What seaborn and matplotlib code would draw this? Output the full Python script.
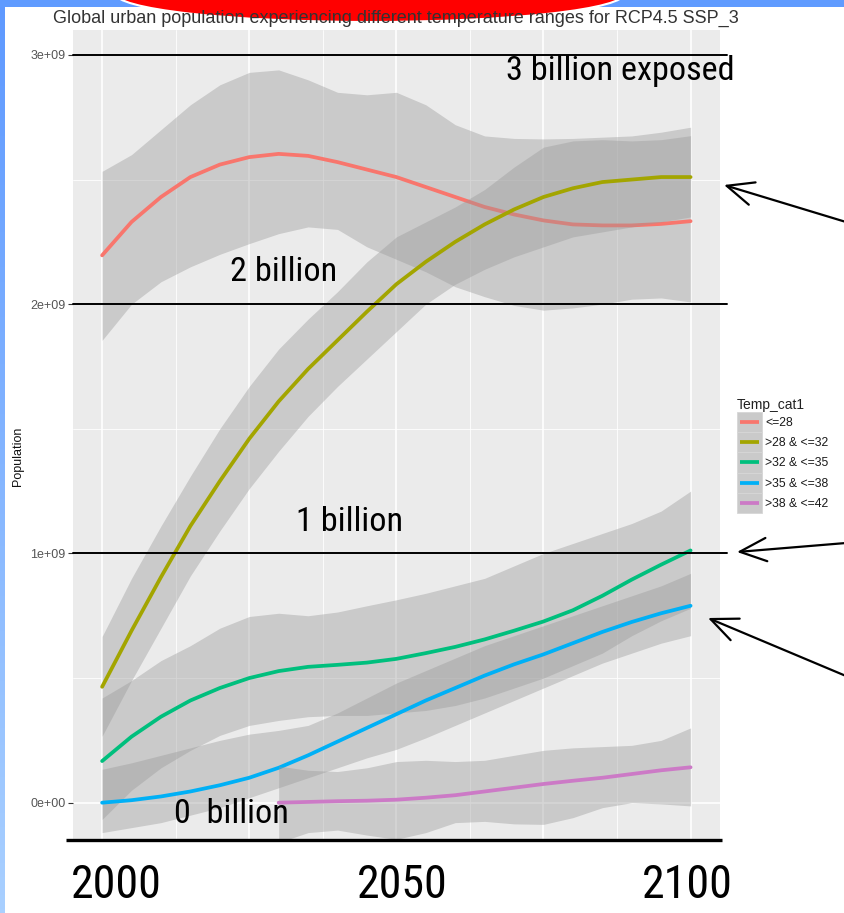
import os
import matplotlib
matplotlib.use("Agg")
import numpy as np
import pandas as pd
import matplotlib.pyplot as plt
import seaborn as sns
from matplotlib import font_manager as fm
from matplotlib.patches import Ellipse, Rectangle, FancyArrowPatch

# ---------------- data (population in billions) ----------------
years = [2000, 2005, 2010, 2015, 2020, 2025, 2030, 2035, 2040, 2045, 2050,
         2055, 2060, 2065, 2070, 2075, 2080, 2085, 2090, 2095, 2100]

cat_le28 = [2.196, 2.33, 2.43, 2.51, 2.56, 2.59, 2.603, 2.595, 2.57, 2.54, 2.51,
            2.47, 2.43, 2.39, 2.36, 2.336, 2.32, 2.316, 2.316, 2.322, 2.333]
cat_le28_hi = [2.533, 2.60, 2.70, 2.80, 2.88, 2.93, 2.94, 2.90, 2.85, 2.84, 2.85,
               2.80, 2.72, 2.675, 2.665, 2.663, 2.665, 2.67, 2.675, 2.69, 2.71]
cat_le28_lo = [1.855, 2.00, 2.09, 2.15, 2.20, 2.243, 2.283, 2.31, 2.30, 2.23, 2.18,
               2.13, 2.07, 2.03, 1.995, 1.976, 1.985, 2.00, 2.02, 2.025, 2.009]

cat_28_32 = [0.465, 0.69, 0.905, 1.11, 1.29, 1.46, 1.61, 1.74, 1.855, 1.97, 2.08,
             2.17, 2.25, 2.32, 2.38, 2.43, 2.465, 2.49, 2.50, 2.51, 2.51]
cat_28_32_hi = [0.667, 0.90, 1.11, 1.31, 1.50, 1.67, 1.82, 1.94, 2.05, 2.17, 2.27,
                2.33, 2.39, 2.46, 2.55, 2.63, 2.655, 2.66, 2.655, 2.66, 2.676]
cat_28_32_lo = [0.267, 0.49, 0.70, 0.91, 1.09, 1.26, 1.41, 1.55, 1.67, 1.78, 1.89,
                2.00, 2.08, 2.14, 2.19, 2.23, 2.27, 2.29, 2.31, 2.33, 2.35]

cat_32_35 = [0.167, 0.265, 0.345, 0.41, 0.46, 0.50, 0.528, 0.545, 0.553, 0.562, 0.577,
             0.60, 0.625, 0.655, 0.69, 0.727, 0.772, 0.83, 0.895, 0.955, 1.012]
cat_32_35_hi = [0.42, 0.49, 0.57, 0.63, 0.70, 0.747, 0.76, 0.75, 0.765, 0.79, 0.814,
                0.84, 0.87, 0.90, 0.95, 1.00, 1.04, 1.08, 1.12, 1.17, 1.25]
cat_32_35_lo = [-0.067, 0.05, 0.14, 0.21, 0.27, 0.31, 0.33, 0.345, 0.35, 0.35, 0.36,
                0.37, 0.39, 0.42, 0.46, 0.50, 0.55, 0.60, 0.67, 0.73, 0.78]

cat_35_38 = [0.0, 0.01, 0.025, 0.045, 0.07, 0.10, 0.14, 0.19, 0.245, 0.30, 0.355,
             0.41, 0.46, 0.51, 0.555, 0.595, 0.64, 0.685, 0.725, 0.76, 0.79]
cat_35_38_hi = [0.134, 0.16, 0.19, 0.22, 0.25, 0.275, 0.29, 0.31, 0.36, 0.42, 0.48,
                0.53, 0.58, 0.63, 0.67, 0.71, 0.75, 0.79, 0.83, 0.87, 0.92]
cat_35_38_lo = [-0.12, -0.10, -0.08, -0.05, -0.02, 0.02, 0.06, 0.10, 0.14, 0.18, 0.214,
                0.26, 0.31, 0.36, 0.41, 0.46, 0.51, 0.56, 0.60, 0.64, 0.67]

years_hot = [2030, 2035, 2040, 2045, 2050, 2055, 2060, 2065, 2070, 2075, 2080,
             2085, 2090, 2095, 2100]
cat_38_42 = [0.0, 0.003, 0.006, 0.008, 0.012, 0.02, 0.03, 0.045, 0.06, 0.075, 0.088,
             0.10, 0.115, 0.13, 0.142]
cat_38_42_hi = [0.147, 0.13, 0.125, 0.14, 0.165, 0.17, 0.165, 0.17, 0.19, 0.21, 0.22,
                0.225, 0.23, 0.25, 0.30]
cat_38_42_lo = [-0.16, -0.12, -0.11, -0.13, -0.147, -0.12, -0.08, -0.075, -0.085, -0.087,
                -0.06, -0.02, 0.0, -0.005, -0.013]

categories = ["<=28", ">28 & <=32", ">32 & <=35", ">35 & <=38", ">38 & <=42"]
colors = ["#F8766D", "#A3A500", "#00BF7D", "#00B0F6", "#CC7AC6"]

series = [
    (years, cat_le28, cat_le28_lo, cat_le28_hi),
    (years, cat_28_32, cat_28_32_lo, cat_28_32_hi),
    (years, cat_32_35, cat_32_35_lo, cat_32_35_hi),
    (years, cat_35_38, cat_35_38_lo, cat_35_38_hi),
    (years_hot, cat_38_42, cat_38_42_lo, cat_38_42_hi),
]

exposure_levels = [3, 2, 1]


# ---------------- fonts ----------------
def narrow_font():
    """Pick an installed narrow/condensed sans face for the callout text."""
    prefs = ["liberationsansnarrow-regular", "arialn", "robotocondensed-regular",
             "notosans-condensed", "opensans-condensed", "dejavusanscondensed",
             "notosans-semicondensed"]
    found = {}
    for e in fm.fontManager.ttflist:
        base = os.path.splitext(os.path.basename(e.fname))[0].lower()
        found.setdefault(base, e.fname)
    for p in prefs:
        for base, path in found.items():
            if base == p:
                return fm.FontProperties(fname=path)
    for base, path in found.items():
        if (("narrow" in base or "condensed" in base) and "bold" not in base
                and "italic" not in base and "mono" not in base
                and "serif" not in base and "light" not in base
                and "medium" not in base and "black" not in base
                and "thin" not in base and "semibold" not in base):
            return fm.FontProperties(fname=path)
    return fm.FontProperties(family="Liberation Sans")


# ---------------- figure ----------------
sns.set_theme(style="white")
plt.rcParams["font.family"] = ["Liberation Sans", "DejaVu Sans"]
NARROW = narrow_font()

W, H = 844, 913
fig = plt.figure(figsize=(W / 100, H / 100), dpi=100, facecolor="white")

ax = fig.add_axes([72.7 / W, 1 - 840 / H, (720 - 72.7) / W, (840 - 30) / H])
ax.set_facecolor("#EBEBEB")
for s in ax.spines.values():
    s.set_visible(False)

B = 1e9
z = 2
for cat, col, (yr, mid, lo, hi) in zip(categories, colors, series):
    ax.fill_between(yr, np.array(lo) * B, np.array(hi) * B, color="#999999",
                    alpha=0.4, lw=0, zorder=z)
    df = pd.DataFrame({"year": yr, "pop": np.array(mid) * B})
    sns.lineplot(data=df, x="year", y="pop", color=col, lw=2.7, ax=ax,
                 zorder=z + 1, legend=False)
    z += 2

ax.set_xlim(1995, 2105)
ax.set_ylim(-0.1497 * B, 3.1 * B)
ax.set_xticks([2000, 2025, 2050, 2075, 2100])
ax.set_xticks([2012.5, 2037.5, 2062.5, 2087.5], minor=True)
ax.set_yticks([0, 1 * B, 2 * B, 3 * B])
ax.set_yticklabels(["0e+00", "1e+09", "2e+09", "3e+09"])
ax.set_yticks([0.5 * B, 1.5 * B, 2.5 * B], minor=True)
ax.grid(True, which="major", color="white", lw=1.2, zorder=0)
ax.grid(True, which="minor", color="white", lw=0.6, zorder=0)
ax.set_axisbelow(True)
ax.tick_params(axis="x", which="both", bottom=False, labelbottom=False)
ax.tick_params(axis="y", which="major", left=True, length=3.5, width=0.8,
               color="#333333", labelsize=9, labelcolor="#555555", pad=1.5)
ax.tick_params(axis="y", which="minor", left=False)
ax.set_xlabel("")
ax.set_ylabel("")

# billion reference lines
for lvl in exposure_levels:
    ax.plot([1995, 2106.2], [lvl * B, lvl * B], color="black", lw=1.4,
            zorder=20, clip_on=False)

callout = dict(fontproperties=NARROW, fontsize=24.6, color="black",
               va="baseline", zorder=21)
ax.text(2068.7, 2.9 * B, "3 billion exposed", ha="left", **callout)
ax.text(2030.9, 2.095 * B, "2 billion", ha="center", **callout)
ax.text(2042.1, 1.088 * B, "1 billion", ha="center", **callout)
ax.text(2022.0, -0.08 * B, "0  billion", ha="center", **callout)

# ---------------- overlay in pixel space ----------------
ov = fig.add_axes([0, 0, 1, 1])
ov.set_xlim(0, W)
ov.set_ylim(H, 0)
ov.axis("off")
ov.patch.set_alpha(0)
ov.set_zorder(10)

# title and y label
ov.text(53, 23, "Global urban population experiencing different temperature "
        "ranges for RCP4.5 SSP_3", fontsize=13.0, color="#333333",
        ha="left", va="baseline")
ov.text(18, 456, "Population", fontsize=9, color="#111111", rotation=90,
        ha="center", va="center")

# bottom axis line and large year labels
ov.plot([66, 722], [840, 840], color="black", lw=2.4, solid_capstyle="butt")
for lab, cx in zip(["2000", "2050", "2100"], [116.5, 402.7, 687.6]):
    ov.text(cx, 898, lab, fontproperties=NARROW, fontsize=33, ha="center",
            va="baseline", color="black")

# legend
ov.text(737, 409, "Temp_cat1", fontsize=10, color="#222222", ha="left",
        va="baseline")
row_h = 20.2
for i, (cat, col) in enumerate(zip(categories, colors)):
    top = 412 + i * row_h
    ov.add_patch(Rectangle((737, top), 25, row_h, facecolor="#CACACA",
                           edgecolor="#D6D6D6", lw=0.6))
    cy = top + row_h / 2
    ov.plot([740, 759], [cy, cy], color=col, lw=2.7, solid_capstyle="butt")
    ov.text(765, cy + 4, cat, fontsize=8.8, color="#1A1A1A", ha="left",
            va="baseline")

# arrows pointing at the curves
for (x0, y0), (x1, y1) in [((846, 222), (724, 185)),
                           ((846, 543), (737, 552)),
                           ((846, 676), (708, 618))]:
    ov.add_patch(FancyArrowPatch((x0, y0), (x1, y1),
                                 arrowstyle="->,head_length=0.8,head_width=0.35",
                                 mutation_scale=24, lw=1.6, color="black",
                                 shrinkA=0, shrinkB=0))

# frame: blue strips and red shape at the top
grad = np.linspace(0, 1, 256).reshape(-1, 1)
cmap = matplotlib.colors.LinearSegmentedColormap.from_list(
    "edge", ["#5E99FF", "#A9D0FF"])
ov.imshow(grad, cmap=cmap, extent=[0, 4.5, H, 0], aspect="auto", zorder=1)
ov.add_patch(Rectangle((0, 0), W, 7, facecolor="#5F9BFF", lw=0, zorder=1))
ov.add_patch(Ellipse((370, -6.7), 510, 57.4, facecolor="#FF0000",
                     edgecolor="white", lw=1.5, zorder=2))
ov.set_xlim(0, W)
ov.set_ylim(H, 0)

fig.savefig("out.png", dpi=100, facecolor="white")
